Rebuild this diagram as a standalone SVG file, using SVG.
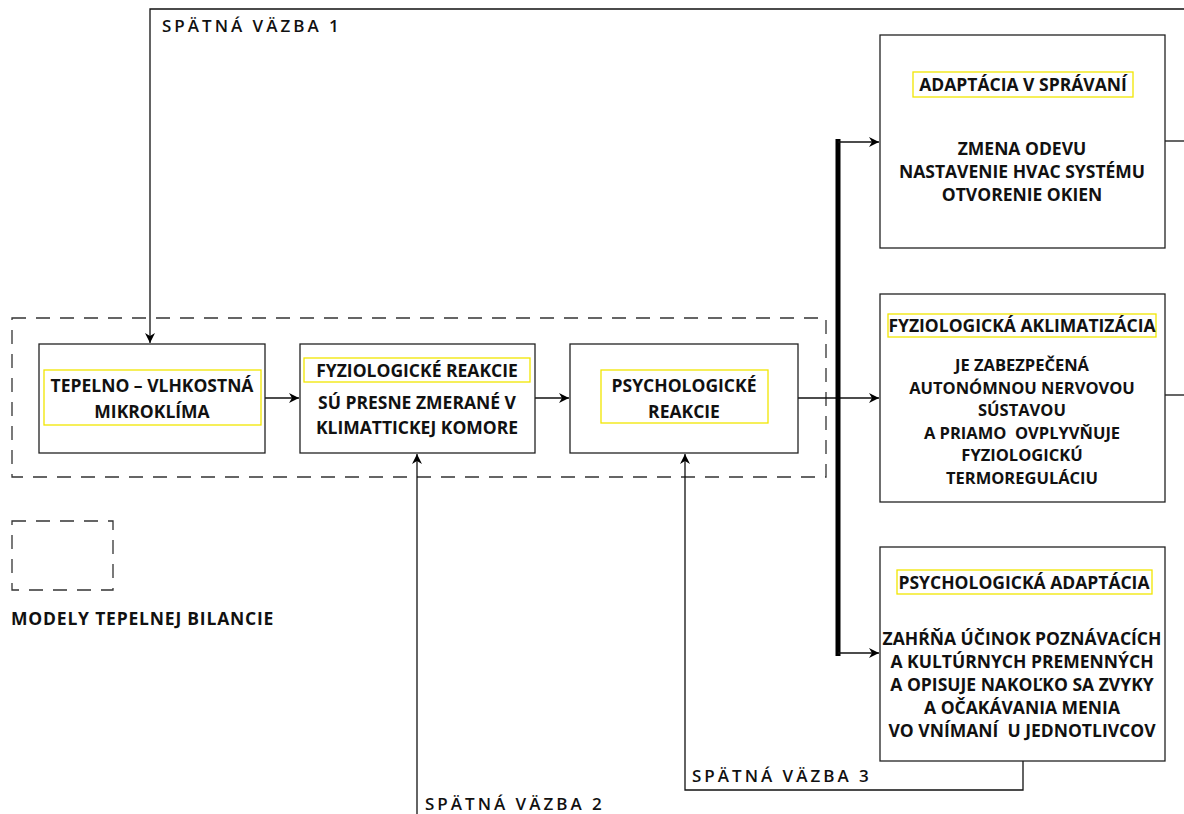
<svg xmlns="http://www.w3.org/2000/svg" width="1184" height="814" viewBox="0 0 1184 814">
<defs>
<marker id="ah" viewBox="0 0 10 10" refX="10" refY="5" markerWidth="10" markerHeight="10" markerUnits="userSpaceOnUse" orient="auto">
<path d="M0,0 L10,5 L0,10 L3,5 z" fill="#000"/>
</marker>
<style>
.box{fill:#fff;stroke:#222;stroke-width:1.3}
.hl{fill:none;stroke:#f2e600;stroke-width:1.3}
.t{font-family:"Open Sans","DejaVu Sans",sans-serif;font-weight:700;font-size:17.5px;fill:#111;text-anchor:middle}
.s{font-size:16.5px}
.fb{font-family:"Open Sans","DejaVu Sans",sans-serif;font-weight:600;font-size:17px;fill:#111;letter-spacing:3px}
.ln{fill:none;stroke:#111;stroke-width:1.3}
.dash{fill:none;stroke:#333;stroke-width:1.3;stroke-dasharray:14 10}
</style>
</defs>
<rect width="1184" height="814" fill="#fff"/>

<g id="models-frame">
<rect class="dash" x="12" y="318" width="814" height="159"/>
</g>

<g id="connectors">
<path class="ln" d="M1184,9 H150 V343" marker-end="url(#ah)"/>
<path class="ln" d="M265,398 H299" marker-end="url(#ah)"/>
<path class="ln" d="M535,398 H569" marker-end="url(#ah)"/>
<path class="ln" d="M798,398 H879" marker-end="url(#ah)"/>
<line x1="838" y1="139" x2="838" y2="656" stroke="#000" stroke-width="5"/>
<path class="ln" d="M838,142 H879" marker-end="url(#ah)"/>
<path class="ln" d="M838,653 H879" marker-end="url(#ah)"/>
<path class="ln" d="M1165,141 H1184"/>
<path class="ln" d="M1165,395 H1184"/>
<path class="ln" d="M417,814 V454" marker-end="url(#ah)"/>
<path class="ln" d="M1023,761 V790 H685 V454" marker-end="url(#ah)"/>
</g>

<g id="label-fb1"><text class="fb" x="162" y="32">SPÄTNÁ VÄZBA 1</text></g>
<g id="label-fb2"><text class="fb" x="425" y="810">SPÄTNÁ VÄZBA 2</text></g>
<g id="label-fb3"><text class="fb" x="692" y="782">SPÄTNÁ VÄZBA 3</text></g>

<g id="node-mikroklima">
<rect class="box" x="39" y="344" width="226" height="109"/>
<rect class="hl" x="44" y="370" width="217" height="55"/>
<text class="t" x="152" y="392">TEPELNO – VLHKOSTNÁ</text>
<text class="t" x="152" y="418">MIKROKLÍMA</text>
</g>

<g id="node-fyz-reakcie">
<rect class="box" x="300" y="344" width="235" height="109"/>
<rect class="hl" x="304" y="358" width="226" height="24"/>
<text class="t" x="417" y="377">FYZIOLOGICKÉ REAKCIE</text>
<text class="t" x="417" y="409">SÚ PRESNE ZMERANÉ V</text>
<text class="t" x="417" y="434">KLIMATTICKEJ KOMORE</text>
</g>

<g id="node-psych-reakcie">
<rect class="box" x="570" y="344" width="228" height="109"/>
<rect class="hl" x="601" y="370" width="167" height="53"/>
<text class="t" x="684" y="392">PSYCHOLOGICKÉ</text>
<text class="t" x="684" y="418">REAKCIE</text>
</g>

<g id="node-adaptacia-spravanie">
<rect class="box" x="880" y="35" width="285" height="213"/>
<rect class="hl" x="913" y="72" width="220" height="25"/>
<text class="t" x="1023" y="91">ADAPTÁCIA V SPRÁVANÍ</text>
<text class="t" x="1022" y="155">ZMENA ODEVU</text>
<text class="t" x="1022" y="178">NASTAVENIE HVAC SYSTÉMU</text>
<text class="t" x="1022" y="201">OTVORENIE OKIEN</text>
</g>

<g id="node-aklimatizacia">
<rect class="box" x="880" y="294" width="285" height="208"/>
<rect class="hl" x="888" y="314" width="268" height="23"/>
<text class="t" x="1022" y="332">FYZIOLOGICKÁ AKLIMATIZÁCIA</text>
<text class="t s" x="1022" y="371">JE ZABEZPEČENÁ</text>
<text class="t s" x="1022" y="393.5">AUTONÓMNOU NERVOVOU</text>
<text class="t s" x="1022" y="416">SÚSTAVOU</text>
<text class="t s" x="1022" y="438.5" xml:space="preserve">A PRIAMO  OVPLYVŇUJE</text>
<text class="t s" x="1022" y="461">FYZIOLOGICKÚ</text>
<text class="t s" x="1022" y="483.5">TERMOREGULÁCIU</text>
</g>

<g id="node-psych-adaptacia">
<rect class="box" x="880" y="547" width="285" height="214"/>
<rect class="hl" x="897" y="570" width="255" height="24"/>
<text class="t" x="1024" y="589">PSYCHOLOGICKÁ ADAPTÁCIA</text>
<text class="t" x="1022" y="645">ZAHŔŇA ÚČINOK POZNÁVACÍCH</text>
<text class="t" x="1022" y="668">A KULTÚRNYCH PREMENNÝCH</text>
<text class="t" x="1022" y="691">A OPISUJE NAKOĽKO SA ZVYKY</text>
<text class="t" x="1022" y="714">A OČAKÁVANIA MENIA</text>
<text class="t" x="1022" y="737" xml:space="preserve">VO VNÍMANÍ  U JEDNOTLIVCOV</text>
</g>

<g id="legend">
<rect class="dash" x="12" y="521" width="101" height="69" stroke-dasharray="12 12"/>
<text class="t" x="11" y="625" style="text-anchor:start;letter-spacing:0.8px">MODELY TEPELNEJ BILANCIE</text>
</g>
</svg>
